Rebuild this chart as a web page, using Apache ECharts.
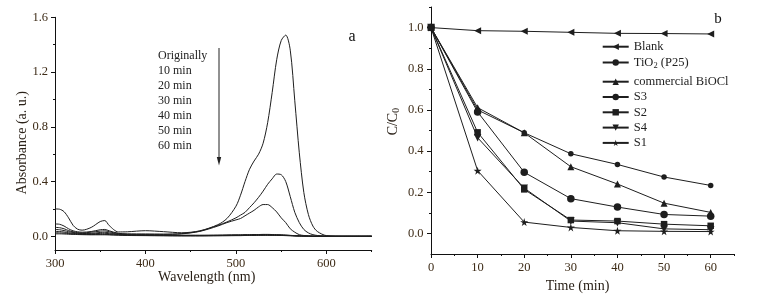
<!DOCTYPE html>
<html>
<head>
<meta charset="utf-8">
<script src="https://cdn.jsdelivr.net/npm/echarts@6.0.0/dist/echarts.min.js"></script>
<style>
  html, body { margin: 0; padding: 0; background: #fff; }
  #chart { width: 776px; height: 302px; }
</style>
</head>
<body>
<div id="chart"></div>
<script>
// panel a: UV-vis spectra (absorbance vs wavelength)
const wavelength = [300, 305, 310, 315, 320, 325, 330, 340, 350, 355, 360, 370, 380, 400, 420, 440, 460, 480, 490,
  500, 505, 510, 515, 520, 525, 530, 535, 540, 545, 550, 555, 560, 565, 570, 575, 580, 585, 590, 600, 620, 650];
const absOriginal = [0.200, 0.198, 0.180, 0.135, 0.080, 0.052, 0.045, 0.065, 0.108, 0.115, 0.078, 0.032, 0.033, 0.041, 0.034, 0.026, 0.040, 0.085, 0.130,
  0.220, 0.300, 0.400, 0.490, 0.550, 0.600, 0.680, 0.830, 1.050, 1.290, 1.430, 1.470, 1.360, 0.990, 0.610, 0.320, 0.160, 0.075, 0.035, 0.005, 0, 0];
const abs10 = [0.090, 0.088, 0.075, 0.055, 0.040, 0.033, 0.030, 0.035, 0.048, 0.050, 0.040, 0.022, 0.018, 0.017, 0.016, 0.020, 0.038, 0.080, 0.105,
  0.135, 0.155, 0.175, 0.210, 0.245, 0.285, 0.330, 0.380, 0.420, 0.455, 0.450, 0.400, 0.290, 0.175, 0.100, 0.050, 0.025, 0.012, 0.006, 0.001, 0, 0];
const abs20 = [0.065, 0.063, 0.055, 0.042, 0.033, 0.027, 0.025, 0.030, 0.038, 0.040, 0.033, 0.020, 0.015, 0.014, 0.014, 0.018, 0.036, 0.075, 0.100,
  0.120, 0.130, 0.150, 0.170, 0.190, 0.215, 0.232, 0.232, 0.210, 0.178, 0.135, 0.100, 0.055, 0.030, 0.012, 0.006, 0.003, 0.001, 0, 0, 0, 0];
const abs30 = [0.050, 0.048, 0.042, 0.034, 0.028, 0.023, 0.020, 0.022, 0.028, 0.030, 0.025, 0.016, 0.012, 0.010, 0.009, 0.008, 0.008, 0.009, 0.010,
  0.011, 0.011, 0.012, 0.012, 0.013, 0.013, 0.014, 0.014, 0.013, 0.012, 0.011, 0.009, 0.007, 0.005, 0.004, 0.003, 0.002, 0.001, 0.001, 0, 0, 0];
const abs40 = [0.036, 0.035, 0.031, 0.026, 0.022, 0.019, 0.017, 0.018, 0.021, 0.022, 0.019, 0.013, 0.010, 0.008, 0.007, 0.006, 0.006, 0.007, 0.008,
  0.009, 0.009, 0.010, 0.010, 0.011, 0.011, 0.011, 0.011, 0.010, 0.010, 0.009, 0.008, 0.006, 0.004, 0.003, 0.002, 0.001, 0.001, 0, 0, 0, 0];
const abs50 = [0.026, 0.025, 0.023, 0.020, 0.018, 0.016, 0.014, 0.013, 0.014, 0.014, 0.013, 0.010, 0.008, 0.006, 0.005, 0.004, 0.004, 0.005, 0.006,
  0.006, 0.007, 0.007, 0.008, 0.008, 0.008, 0.009, 0.009, 0.008, 0.008, 0.007, 0.006, 0.005, 0.003, 0.002, 0.001, 0.001, 0, 0, 0, 0, 0];
const abs60 = [0.018, 0.018, 0.017, 0.015, 0.014, 0.013, 0.012, 0.011, 0.011, 0.011, 0.010, 0.008, 0.006, 0.005, 0.004, 0.003, 0.003, 0.004, 0.004,
  0.005, 0.005, 0.006, 0.006, 0.006, 0.007, 0.007, 0.007, 0.007, 0.006, 0.006, 0.005, 0.004, 0.003, 0.002, 0.001, 0.001, 0, 0, 0, 0, 0];
const spectraNames = ['Originally', '10 min', '20 min', '30 min', '40 min', '50 min', '60 min'];
const wlTicks = [300, 400, 500, 600];
const wlMinor = [350, 450, 550, 650];
const absTicks = [0, 0.4, 0.8, 1.2, 1.6];
const absMinor = [0.2, 0.6, 1.0, 1.4];

// panel b: C/C0 vs irradiation time
const timeMin = [0, 10, 20, 30, 40, 50, 60];
const blank = [1.0, 0.985, 0.982, 0.977, 0.972, 0.971, 0.969];
const tio2 = [1.0, 0.600, 0.489, 0.387, 0.335, 0.274, 0.233];
const biocl = [1.0, 0.611, 0.489, 0.324, 0.240, 0.147, 0.102];
const s3 = [1.0, 0.590, 0.297, 0.169, 0.128, 0.092, 0.084];
const s2 = [1.0, 0.491, 0.214, 0.065, 0.060, 0.045, 0.037];
const s4 = [1.0, 0.465, 0.220, 0.060, 0.052, 0.022, 0.018];
const s1 = [1.0, 0.305, 0.055, 0.029, 0.013, 0.010, 0.009];
const timeTicks = [0, 10, 20, 30, 40, 50, 60];
const timeMinor = [5, 15, 25, 35, 45, 55, 65];
const ccTicks = [0, 0.2, 0.4, 0.6, 0.8, 1.0];
const ccMinor = [0.1, 0.3, 0.5, 0.7, 0.9, 1.1];

const FONT = '"Liberation Serif", "DejaVu Serif", serif';
const INK = '#1e1e1e';
const TICK_INK = '#3d2b17';

const star = 'path://M50,0 L61,35 L98,35 L68,57 L79,91 L50,70 L21,91 L32,57 L2,35 L39,35 Z';

const myChart = echarts.init(document.getElementById('chart'));

function mainAxis(grid, min, max, labels, ticks, fmt, pos, margin) {
  return {
    type: 'value', gridIndex: grid, min: min, max: max, position: pos,
    splitLine: { show: false },
    axisLine: { show: true, onZero: false, lineStyle: { color: '#111', width: 1 } },
    axisTick: { show: true, inside: false, length: 4, customValues: ticks, lineStyle: { color: '#111' } },
    axisLabel: { show: true, customValues: labels, formatter: fmt, margin: margin,
      fontFamily: FONT, fontSize: 12.5, color: TICK_INK }
  };
}
function minorAxis(grid, min, max, ticks, pos) {
  return {
    type: 'value', gridIndex: grid, min: min, max: max, position: pos,
    splitLine: { show: false },
    axisLine: { show: false, onZero: false },
    axisTick: { show: true, inside: false, length: 2, customValues: ticks, lineStyle: { color: '#111' } },
    axisLabel: { show: false }
  };
}

const spectraData = [absOriginal, abs10, abs20, abs30, abs40, abs50, abs60];
const seriesData = spectraData.map((vals, i) => ({
  name: spectraNames[i],
  type: 'line',
  xAxisIndex: 0, yAxisIndex: 0,
  smooth: 0.3,
  symbol: 'none',
  lineStyle: { color: INK, width: 1 },
  data: wavelength.map((w, k) => [w, vals[k]])
}));

const kinetics = [
  { name: 'Blank', vals: blank, symbol: 'triangle', size: 7, rotate: 90 },
  { name: 'TiO2 (P25)', vals: tio2, symbol: 'circle', size: 5.5, rotate: 0 },
  { name: 'commercial BiOCl', vals: biocl, symbol: 'triangle', size: 7, rotate: 0 },
  { name: 'S3', vals: s3, symbol: 'circle', size: 7.5, rotate: 0 },
  { name: 'S2', vals: s2, symbol: 'rect', size: 6.5, rotate: 0 },
  { name: 'S4', vals: s4, symbol: 'triangle', size: 7.5, rotate: 180 },
  { name: 'S1', vals: s1, symbol: star, size: 8, rotate: 0 }
];
kinetics.forEach(k => {
  seriesData.push({
    name: k.name,
    type: 'line',
    xAxisIndex: 2, yAxisIndex: 2,
    symbol: k.symbol,
    symbolSize: k.size,
    symbolRotate: k.rotate,
    showAllSymbol: true,
    lineStyle: { color: INK, width: 1 },
    itemStyle: { color: INK, borderWidth: 0 },
    data: timeMin.map((t, i) => [t, k.vals[i]])
  });
});

const legendBase = {
  orient: 'vertical', left: 601.7, padding: 0, itemGap: 1.3,
  itemWidth: 26, itemHeight: 8, icon: null,
  textStyle: {
    fontFamily: FONT, fontSize: 12.5, color: '#222', lineHeight: 14,
    rich: { sub: { fontFamily: FONT, fontSize: 8.5, lineHeight: 14, padding: [6, 0, 0, 0], color: '#222' } }
  },
  formatter: name => name === 'TiO2 (P25)' ? 'TiO{sub|2} (P25)' : name,
  selectedMode: false
};

const legendLabels = spectraNames.map((n, i) => ({
  type: 'text', left: 158, top: 57 + i * 15 - 7,
  style: { text: n, font: '12px ' + FONT, fill: '#222' }
}));

myChart.setOption({
  animation: false,
  backgroundColor: '#fff',
  grid: [
    { left: 55, top: 17.3, width: 316.7, height: 232.7 },
    { left: 431, top: 7, width: 303, height: 247 }
  ],
  xAxis: [
    mainAxis(0, 300, 650, wlTicks, wlTicks, v => String(v), 'bottom', 7),
    minorAxis(0, 300, 650, wlMinor, 'bottom'),
    mainAxis(1, 0, 65, timeTicks, timeTicks, v => String(v), 'bottom', 7),
    minorAxis(1, 0, 65, timeMinor, 'bottom')
  ],
  yAxis: [
    mainAxis(0, -0.1, 1.6, absTicks, absTicks, v => v.toFixed(1), 'left', 7),
    minorAxis(0, -0.1, 1.6, absMinor, 'left'),
    mainAxis(1, -0.1, 1.1, ccTicks, ccTicks, v => v.toFixed(1), 'left', 7.5),
    minorAxis(1, -0.1, 1.1, ccMinor, 'left')
  ],
  legend: [
    Object.assign({}, legendBase, { top: 39.7, data: ['Blank', 'TiO2 (P25)'] }),
    Object.assign({}, legendBase, { top: 74.7, data: ['commercial BiOCl', 'S3', 'S2', 'S4', 'S1'] })
  ],
  graphic: [
    { type: 'text', x: 22.5, y: 142.7, rotation: Math.PI / 2,
      style: { text: 'Absorbance (a. u.)', font: '14px ' + FONT, fill: '#2a2118', align: 'center', verticalAlign: 'middle' } },
    { type: 'text', x: 206.7, y: 277.5,
      style: { text: 'Wavelength (nm)', font: '14px ' + FONT, fill: '#2a2118', align: 'center', verticalAlign: 'middle' } },
    { type: 'text', x: 577.5, y: 286,
      style: { text: 'Time (min)', font: '14px ' + FONT, fill: '#2a2118', align: 'center', verticalAlign: 'middle' } },
    { type: 'text', x: 393, y: 121.7, rotation: Math.PI / 2,
      style: { text: '{m|C/C}{s|0}', align: 'center', verticalAlign: 'middle',
        rich: {
          m: { fontFamily: FONT, fontSize: 14, fill: '#2a2118', lineHeight: 16 },
          s: { fontFamily: FONT, fontSize: 9.5, fill: '#2a2118', lineHeight: 16, padding: [7, 0, 0, 0] }
        } } },
    { type: 'text', x: 352, y: 37,
      style: { text: 'a', font: '16px ' + FONT, fill: '#111', align: 'center', verticalAlign: 'middle' } },
    { type: 'text', x: 718, y: 19,
      style: { text: 'b', font: '15px ' + FONT, fill: '#111', align: 'center', verticalAlign: 'middle' } },
    // arrow showing decreasing absorbance with time
    { type: 'line', shape: { x1: 219, y1: 48, x2: 219, y2: 158 }, style: { stroke: '#222', lineWidth: 1 } },
    { type: 'polygon', shape: { points: [[216.8, 157], [221.2, 157], [219, 165.5]] }, style: { fill: '#222' } }
  ].concat(legendLabels),
  series: seriesData
});
</script>
</body>
</html>
